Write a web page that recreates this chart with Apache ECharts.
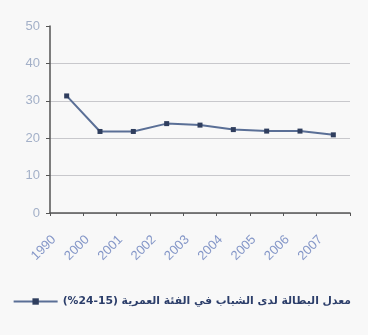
<!DOCTYPE html>
<html>
<head>
<meta charset="utf-8">
<script src="https://cdn.jsdelivr.net/npm/echarts@6/dist/echarts.min.js"></script>
<style>
  html, body { margin: 0; padding: 0; background: #f8f8f8; }
  #chart { width: 368px; height: 335px; }
</style>
</head>
<body>
<div id="chart"></div>
<script>
// Years along the x axis
const years = ['1990', '2000', '2001', '2002', '2003', '2004', '2005', '2006', '2007'];
// Youth rate, age group 15-24 (%)
const rates = [31.3, 21.8, 21.8, 23.9, 23.5, 22.3, 21.9, 21.9, 20.9];
// Y axis bounds
const yTicks = [0, 10, 20, 30, 40, 50];
const seriesName = 'معدل البطالة لدى الشباب في الفئة العمرية (15-24%)';

const chart = echarts.init(document.getElementById('chart'));
chart.setOption({
  backgroundColor: '#f8f8f8',
  animation: false,
  grid: { left: 50, right: 18, top: 26, bottom: 122 },
  legend: {
    data: [seriesName],
    right: 12,
    top: 291,
    itemWidth: 44,
    itemHeight: 8,
    itemGap: 6,
    textStyle: { color: '#2c3e6a', fontSize: 10.8, fontFamily: 'DejaVu Sans', fontWeight: 'bold' }
  },
  xAxis: {
    type: 'category',
    data: years,
    boundaryGap: true,
    axisLine: { lineStyle: { color: '#555', width: 1.5 } },
    axisTick: { show: true, length: 3, lineStyle: { color: '#555' } },
    axisLabel: {
      rotate: 45,
      color: '#8597c8',
      fontSize: 13,
      fontFamily: 'Liberation Sans',
      margin: 12,
      padding: [0, 18, 0, 0],
      interval: 0
    },
    splitLine: { show: false }
  },
  yAxis: {
    type: 'value',
    min: yTicks[0],
    max: yTicks[yTicks.length - 1],
    interval: 10,
    axisLine: { show: true, lineStyle: { color: '#555', width: 1.5 } },
    axisTick: { show: true, length: 4, lineStyle: { color: '#555' } },
    axisLabel: { color: '#a3b0c8', fontSize: 13, fontFamily: 'Liberation Sans', margin: 10 },
    splitLine: {
      show: true,
      showMaxLine: false,
      lineStyle: { color: '#c8c8cc', width: 1 }
    }
  },
  series: [{
    name: seriesName,
    type: 'line',
    data: rates,
    symbol: 'rect',
    symbolSize: 5,
    lineStyle: { color: '#5a6f96', width: 2 },
    itemStyle: { color: '#2f3e5e' }
  }]
});
</script>
</body>
</html>
